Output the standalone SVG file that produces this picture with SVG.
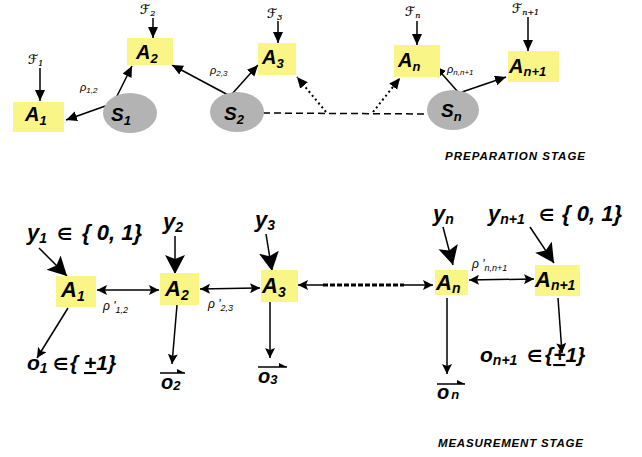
<svg xmlns="http://www.w3.org/2000/svg" width="642" height="457" viewBox="0 0 642 457">
<style>
.bx{fill:#FAF587;stroke:none}
.el{fill:#B3B3B3;stroke:none}
.t{font-family:"Liberation Sans","DejaVu Sans",sans-serif;font-weight:bold;font-style:italic;fill:#000}
.f{font-family:"DejaVu Serif","DejaVu Sans",serif;font-style:italic;fill:#000;stroke:#000;stroke-width:0.2}
.r{font-family:"Liberation Sans","DejaVu Sans",sans-serif;font-style:italic;fill:#000}
.e{font-size:17px}
.ln{stroke:#000;stroke-width:1.5;fill:none}
</style>
<defs>
<marker id="tri" markerUnits="userSpaceOnUse" markerWidth="12" markerHeight="12" refX="11" refY="5" orient="auto"><path d="M0,0 L11,5 L0,10 z" fill="#000"/></marker>
<marker id="big" markerUnits="userSpaceOnUse" markerWidth="22" markerHeight="22" refX="19" refY="10" orient="auto"><path d="M0,0 L19,10 L0,20 L4,10 z" fill="#000"/></marker>
<marker id="thin" markerUnits="userSpaceOnUse" markerWidth="12" markerHeight="12" refX="10" refY="5" orient="auto-start-reverse"><path d="M0,0 L10,5 L0,10 L2,5 z" fill="#000"/></marker>
<marker id="vec" markerUnits="userSpaceOnUse" markerWidth="9" markerHeight="9" refX="8" refY="5" orient="auto"><path d="M0,1 L8,5 L0,5 z" fill="#000"/></marker>
</defs>

<g id="connectors">
<line class="ln" x1="40" y1="68" x2="40" y2="101" marker-end="url(#tri)"/>
<line class="ln" x1="153" y1="18" x2="153" y2="38" marker-end="url(#tri)"/>
<line class="ln" x1="278" y1="21" x2="278" y2="43" marker-end="url(#tri)"/>
<line class="ln" x1="417" y1="21" x2="417" y2="45" marker-end="url(#tri)"/>
<line class="ln" x1="528" y1="17" x2="528" y2="51" marker-end="url(#tri)"/>
<line class="ln" x1="111" y1="104" x2="66" y2="120" marker-end="url(#tri)"/>
<line class="ln" x1="115" y1="100" x2="132" y2="66" marker-end="url(#tri)"/>
<line class="ln" x1="230" y1="96" x2="172" y2="65" marker-end="url(#tri)"/>
<line class="ln" x1="232" y1="94" x2="258" y2="65" marker-end="url(#tri)"/>
<line class="ln" x1="458" y1="92" x2="435" y2="66" marker-end="url(#tri)"/>
<line class="ln" x1="462" y1="92" x2="506" y2="77" marker-end="url(#tri)"/>
<line x1="263" y1="113" x2="427" y2="114" stroke="#000" stroke-width="1.5" stroke-dasharray="7 4"/>
<line x1="326" y1="112" x2="297" y2="77" stroke="#000" stroke-width="2" stroke-dasharray="2 3" marker-end="url(#tri)"/>
<line x1="373" y1="112" x2="400" y2="78" stroke="#000" stroke-width="2" stroke-dasharray="2 3" marker-end="url(#tri)"/>
<line class="ln" x1="39" y1="248" x2="67" y2="276" marker-end="url(#big)"/>
<line class="ln" x1="175" y1="236" x2="175" y2="274" marker-end="url(#big)"/>
<line class="ln" x1="266" y1="234" x2="272" y2="271" marker-end="url(#big)"/>
<line class="ln" x1="443" y1="227" x2="453" y2="265" marker-end="url(#big)"/>
<line class="ln" x1="530" y1="227" x2="554" y2="263" marker-end="url(#big)"/>
<line class="ln" x1="97" y1="290" x2="159" y2="290" marker-start="url(#thin)" marker-end="url(#thin)"/>
<line class="ln" x1="200" y1="289" x2="260" y2="288" marker-start="url(#thin)" marker-end="url(#thin)"/>
<line class="ln" x1="469" y1="280" x2="534" y2="279" marker-start="url(#thin)" marker-end="url(#thin)"/>
<line class="ln" x1="298" y1="285" x2="323" y2="285" marker-start="url(#thin)"/>
<line x1="323" y1="285" x2="404" y2="285" stroke="#000" stroke-width="3" stroke-dasharray="5 2"/>
<line class="ln" x1="404" y1="285" x2="433" y2="285" marker-end="url(#thin)"/>
<line class="ln" x1="68" y1="308" x2="37" y2="358" marker-end="url(#thin)"/>
<line class="ln" x1="177" y1="305" x2="172" y2="364" marker-end="url(#thin)"/>
<line class="ln" x1="270" y1="302" x2="270" y2="358" marker-end="url(#thin)"/>
<line class="ln" x1="447" y1="298" x2="447" y2="374" marker-end="url(#thin)"/>
<line class="ln" x1="558" y1="298" x2="562" y2="353" marker-end="url(#thin)"/>
</g>

<g id="A1top"><rect class="bx" x="13" y="102" width="51" height="30"/><text class="t" x="25" y="121" font-size="20">A<tspan font-size="13" dy="4">1</tspan></text></g>
<g id="A2top"><rect class="bx" x="127" y="38" width="46" height="27"/><text class="t" x="136" y="59" font-size="20">A<tspan font-size="13" dy="4">2</tspan></text></g>
<g id="A3top"><rect class="bx" x="258" y="43" width="38" height="32"/><text class="t" x="262" y="64" font-size="20">A<tspan font-size="13" dy="4">3</tspan></text></g>
<g id="Antop"><rect class="bx" x="394" y="45" width="46" height="32"/><text class="t" x="398" y="67" font-size="20">A<tspan font-size="13" dy="4">n</tspan></text></g>
<g id="An1top"><rect class="bx" x="508" y="51" width="51" height="31"/><text class="t" x="509" y="73" font-size="20">A<tspan font-size="13" dy="3">n+1</tspan></text></g>

<g id="S1"><ellipse class="el" cx="130" cy="113" rx="27" ry="20"/><text class="t" x="111" y="121" font-size="19">S<tspan font-size="13" dy="4">1</tspan></text></g>
<g id="S2"><ellipse class="el" cx="237" cy="112" rx="27" ry="20"/><text class="t" x="224" y="120" font-size="19">S<tspan font-size="13" dy="4">2</tspan></text></g>
<g id="Sn"><ellipse class="el" cx="453" cy="110" rx="26" ry="20"/><text class="t" x="441" y="117" font-size="19">S<tspan font-size="13" dy="4">n</tspan></text></g>

<g id="labels-top">
<text class="f" x="28" y="64" font-size="13">ℱ<tspan font-size="8" dy="2">1</tspan></text>
<text class="f" x="140" y="14" font-size="13">ℱ<tspan font-size="8" dy="2">2</tspan></text>
<text class="f" x="267" y="18" font-size="13">ℱ<tspan font-size="8" dy="2">3</tspan></text>
<text class="f" x="405" y="16" font-size="13">ℱ<tspan font-size="8" dy="2">n</tspan></text>
<text class="f" x="512" y="13" font-size="13">ℱ<tspan font-size="8" dy="2">n+1</tspan></text>
<text class="r" x="80" y="91" font-size="11">ρ<tspan font-size="8" dy="2">1,2</tspan></text>
<text class="r" x="210" y="74" font-size="11">ρ<tspan font-size="8" dy="2">2,3</tspan></text>
<text class="r" x="447" y="73" font-size="11">ρ<tspan font-size="8" dy="2">n,n+1</tspan></text>
<text class="t" x="445" y="160" font-size="11.5" textLength="140">PREPARATION STAGE</text>
</g>

<g id="A1"><rect class="bx" x="56" y="276" width="40" height="31"/><text class="t" x="61" y="297" font-size="22">A<tspan font-size="14" dy="4">1</tspan></text></g>
<g id="A2"><rect class="bx" x="160" y="273" width="39" height="32"/><text class="t" x="165" y="296" font-size="22">A<tspan font-size="14" dy="4">2</tspan></text></g>
<g id="A3"><rect class="bx" x="261" y="270" width="37" height="32"/><text class="t" x="262" y="293" font-size="22">A<tspan font-size="14" dy="4">3</tspan></text></g>
<g id="An"><rect class="bx" x="435" y="270" width="33" height="25"/><text class="t" x="436" y="290" font-size="22">A<tspan font-size="14" dy="3">n</tspan></text></g>
<g id="An1"><rect class="bx" x="535" y="265" width="45" height="31"/><text class="t" x="535" y="287" font-size="22">A<tspan font-size="14" dy="3">n+1</tspan></text></g>

<g id="labels-bottom">
<text class="t" x="27" y="240" font-size="22">y<tspan font-size="14" dy="3">1</tspan><tspan class="e" dy="-3" x="57">∈</tspan><tspan x="76"> { 0, 1}</tspan></text>
<text class="t" x="163" y="229" font-size="22">y<tspan font-size="14" dy="3">2</tspan></text>
<text class="t" x="255" y="227" font-size="22">y<tspan font-size="14" dy="3">3</tspan></text>
<text class="t" x="433" y="221" font-size="22">y<tspan font-size="14" dy="3">n</tspan></text>
<text class="t" x="488" y="221" font-size="22">y<tspan font-size="14" dy="3">n+1</tspan><tspan class="e" dy="-3" x="539">∈</tspan><tspan x="556"> { 0, 1}</tspan></text>
<text class="r" x="103" y="310" font-size="12">ρ '<tspan font-size="9" dy="3">1,2</tspan></text>
<text class="r" x="208" y="308" font-size="12">ρ '<tspan font-size="9" dy="3">2,3</tspan></text>
<text class="r" x="472" y="268" font-size="12">ρ '<tspan font-size="9" dy="3">n,n+1</tspan></text>
<text class="t" x="27" y="370" font-size="21">o<tspan font-size="14" dy="3">1</tspan><tspan class="e" dy="-3" x="53">∈</tspan><tspan x="70">{ </tspan><tspan text-decoration="underline">+</tspan><tspan>1}</tspan></text>
<text class="t" x="480" y="362" font-size="21">o<tspan font-size="14" dy="3">n+1</tspan><tspan class="e" dy="-3" x="527">∈</tspan><tspan x="545">{</tspan><tspan text-decoration="underline">+</tspan><tspan>1}</tspan></text>
<line x1="160" y1="373" x2="185" y2="373" stroke="#000" stroke-width="1.5" marker-end="url(#vec)"/>
<text class="t" x="161" y="389" font-size="20">o<tspan font-size="13" dy="1">2</tspan></text>
<line x1="258" y1="367" x2="287" y2="367" stroke="#000" stroke-width="1.5" marker-end="url(#vec)"/>
<text class="t" x="258" y="383" font-size="20">o<tspan font-size="13" dy="1">3</tspan></text>
<line x1="437" y1="384" x2="465" y2="384" stroke="#000" stroke-width="1.5" marker-end="url(#vec)"/>
<text class="t" x="437" y="399" font-size="20">o<tspan font-size="13" dx="2">n</tspan></text>
<text class="t" x="438" y="447" font-size="11.5" textLength="145">MEASUREMENT STAGE</text>
</g>
</svg>
